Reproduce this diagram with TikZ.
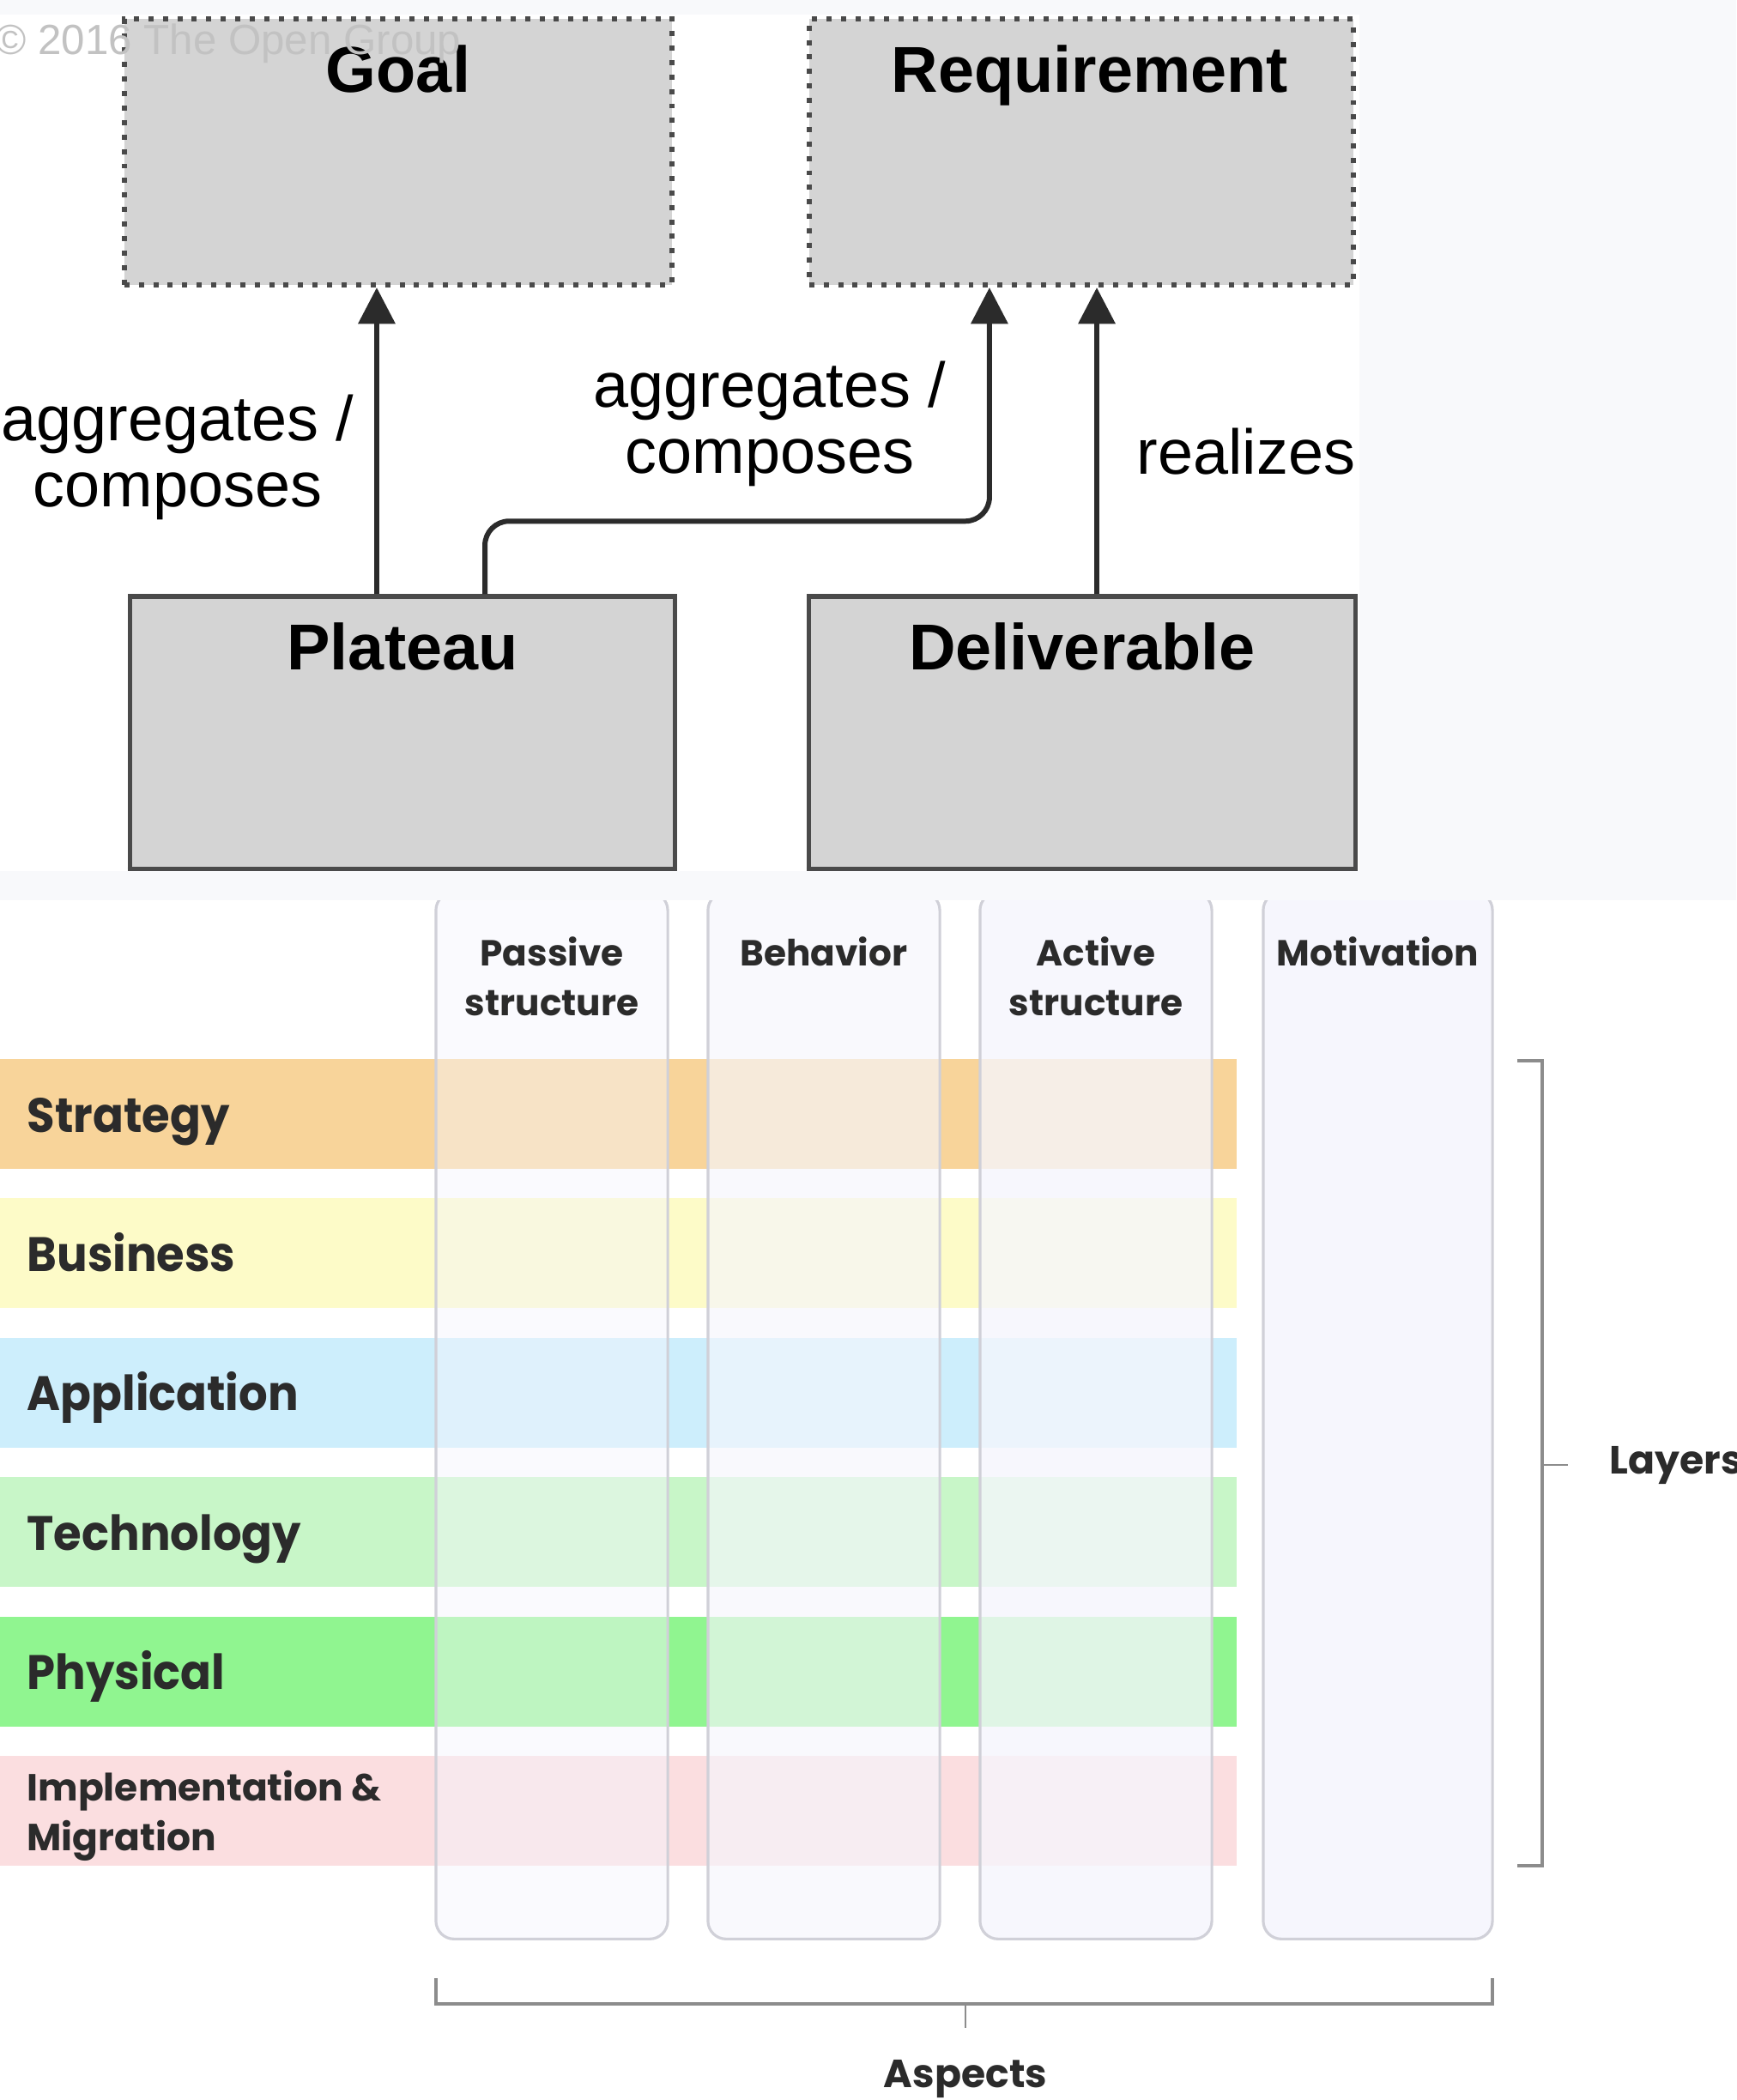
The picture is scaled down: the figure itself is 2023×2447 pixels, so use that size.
\documentclass[tikz,border=0pt]{standalone}
\usepackage{fontspec}
\setmainfont{Liberation Sans}
\newfontfamily\geofont{Poppins}
\newfontfamily\geonarrow[FakeStretch=0.94]{Poppins}
\usepackage{xcolor}
\usetikzlibrary{positioning}
\usetikzlibrary{arrows.meta}
\tikzset{>={Triangle[width=12pt,length=12pt]}}
\definecolor{pagegray}{HTML}{F8F9FB}
\definecolor{boxgray}{HTML}{D4D4D4}
\definecolor{edgegray}{HTML}{4A4A4A}
\definecolor{inkgray}{HTML}{2B2B2B}
\definecolor{wmgray}{HTML}{C2C2C2}
\definecolor{colfill}{HTML}{F6F6FD}
\definecolor{coledge}{HTML}{D0D0D8}
\definecolor{bracegray}{HTML}{8C8C8C}
\definecolor{strategycol}{HTML}{F8D49A}
\definecolor{businesscol}{HTML}{FDFBC8}
\definecolor{applicationcol}{HTML}{CDEEFC}
\definecolor{technologycol}{HTML}{C8F6C8}
\definecolor{physicalcol}{HTML}{90F590}
\definecolor{implmigcol}{HTML}{FBDEE0}
\tikzset{elem/.style={rectangle,inner sep=0pt,fill=boxgray,draw=edgegray,line width=1.5pt}}
\tikzset{motive/.style={elem,line width=1.7pt,dash pattern=on 1.7pt off 3.1pt}}
\tikzset{title/.style={inner sep=0pt,font=\fontsize{21.5}{24}\selectfont\bfseries}}
\tikzset{rel/.style={->,line width=1.7pt,draw=inkgray}}
\tikzset{rellabel/.style={inner sep=0pt,align=center,font=\fontsize{21}{22}\selectfont}}
\tikzset{layerband/.style={rectangle,inner sep=0pt,minimum width=14.41cm,minimum height=1.28cm}}
\tikzset{layername/.style={inner sep=0pt,anchor=base west,align=left,text=inkgray,font=\geonarrow\bfseries\fontsize{16}{19}\selectfont}}
\tikzset{aspectcol/.style={rectangle,inner sep=0pt,rounded corners=6pt,fill=colfill,draw=coledge,line width=0.9pt,minimum width=2.7cm,minimum height=12.19cm}}
\tikzset{colhead/.style={inner sep=0pt,align=center,text=inkgray,font=\geofont\bfseries\fontsize{12}{16.5}\selectfont}}
\tikzset{brace/.style={draw=bracegray,line width=1.2pt}}
\tikzset{bracetick/.style={draw=bracegray,line width=0.6pt}}

\begin{document}
\begin{tikzpicture}[x=0.01cm,y=-0.01cm]
\useasboundingbox (0,0) rectangle (2023,2447);
\fill[white] (0,0) rectangle (2023,2447);
\fill[pagegray] (0,0) rectangle (2023,17);
\fill[pagegray] (1584,0) rectangle (2023,1015);

\node[motive,minimum width=6.38cm,minimum height=3.1cm] (goal) at (464,177) {};
\node[motive,minimum width=6.34cm,minimum height=3.1cm] (requirement) at (1260,177) {};
\node[elem,minimum width=6.35cm,minimum height=3.18cm] (plateau) at (469,854) {};
\node[elem,minimum width=6.37cm,minimum height=3.18cm] (deliverable) at (1261,854) {};
\draw[edgegray,line width=2.6pt] (plateau.south west) -- (plateau.south east);
\draw[edgegray,line width=2.6pt] (deliverable.south west) -- (deliverable.south east);

\node[title,below=3.3mm of goal.north] (goaltitle) {Goal};
\node[title,below=3.3mm of requirement.north,xshift=1mm] (reqtitle) {Requirement};
\node[title,below=3.3mm of plateau.north] (plateautitle) {Plateau};
\node[title,below=3.3mm of deliverable.north] (delivtitle) {Deliverable};

\node[anchor=base west,inner sep=0pt,text=wmgray,font=\fontsize{14}{14}\selectfont] (copyright) at (-6,63) {© 2016 The Open Group};

\draw[rel] ([xshift=-3mm]plateau.north) -- ([xshift=-3mm]plateau.north |- goal.south);
\draw[rel,rounded corners=8pt] ([xshift=9.6mm]plateau.north) -- ++(0,-85) -| ([xshift=-10.7mm]requirement.south);
\draw[rel] ([xshift=1.7mm]deliverable.north) -- ([xshift=1.7mm]deliverable.north |- requirement.south);

\node[rellabel] (aggleft) at (207,533) {aggregates /\\composes};
\node[rellabel] (aggmid) at (897,494) {aggregates /\\composes};
\node[rellabel,anchor=base west] (realizes) at (1324,552) {realizes};

\foreach \name/\i/\txt in {strategy/0/Strategy,business/1/Business,application/2/Application,technology/3/Technology,physical/4/Physical}{
  \node[layerband,fill=\name col] (\name) at (720.5,1298+162.4*\i) {};
  \node[layername] (\name label) at ([xshift=3.2mm,yshift=-2.1mm]\name.west) {\txt};
}
\node[layerband,fill=implmigcol] (implmig) at (720.5,2110) {};
\node[layername,anchor=west,font=\geofont\bfseries\fontsize{12.5}{16.5}\selectfont] (implmiglabel) at ([xshift=3.2mm,yshift=-0.6mm]implmig.west) {Implementation \&\\Migration};

\node[aspectcol,fill opacity=0.45] (passive) at (643,1649.5) {};
\node[aspectcol,fill opacity=0.65] (behavior) at (960,1649.5) {};
\node[aspectcol,fill opacity=0.78] (active) at (1277,1649.5) {};
\node[aspectcol,minimum width=2.67cm] (motivation) at (1605.5,1649.5) {};
\fill[pagegray] (0,1015) rectangle (2023,1049);

\node[colhead,below=5.3mm of passive.north] (passivehead) {Passive\\structure};
\node[colhead,below=5.3mm of behavior.north] (behaviorhead) {Behavior};
\node[colhead,below=5.3mm of active.north] (activehead) {Active\\structure};
\node[colhead,below=5.3mm of motivation.north] (motivationhead) {Motivation};

\draw[brace] (1768,1236) -- (1797,1236) -- (1797,2174) -- (1768,2174);
\draw[bracetick] (1797,1707) -- (1827,1707);
\node[colhead,anchor=west,font=\geofont\bfseries\fontsize{13}{16}\selectfont] (layers) at (1875,1707) {Layers};

\draw[brace] (508,2305) -- (508,2335) -- (1739,2335) -- (1739,2305);
\draw[bracetick] (1125,2335) -- (1125,2363);
\node[colhead,font=\geofont\bfseries\fontsize{13}{16}\selectfont] (aspects) at (1125,2423) {Aspects};
\end{tikzpicture}
\end{document}
